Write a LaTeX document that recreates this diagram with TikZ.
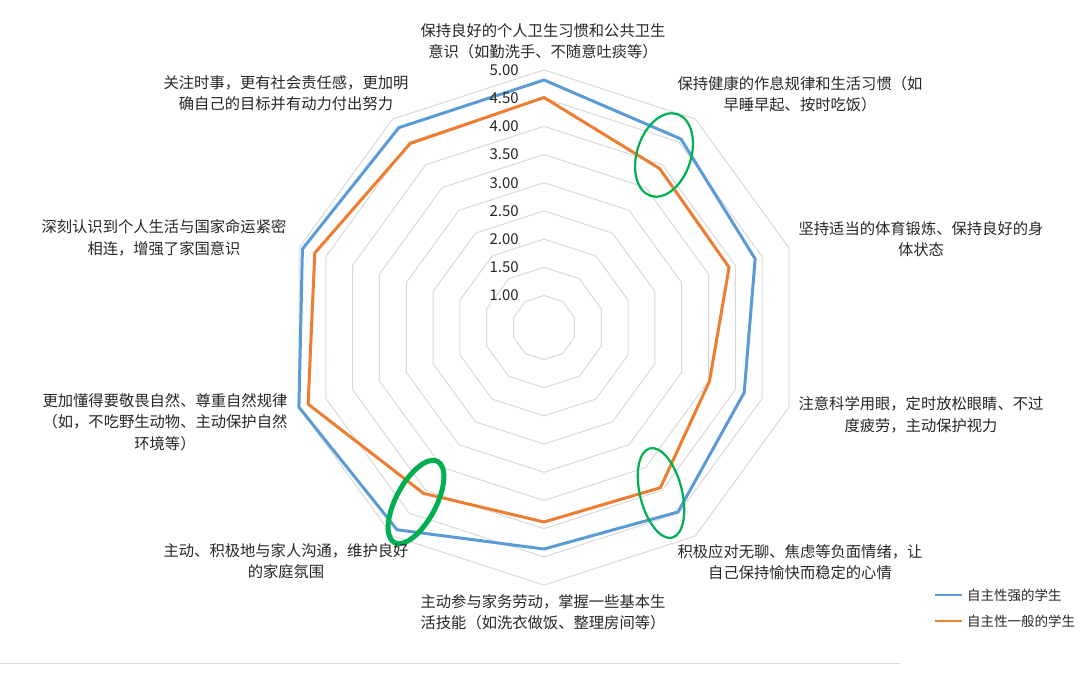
\documentclass[tikz,border=0pt]{standalone}
\usepackage{fontspec}
\setmainfont{Noto Sans CJK SC}
\definecolor{ring}{HTML}{D9D9D9}
\definecolor{sblue}{HTML}{5B9BD5}
\definecolor{sorange}{HTML}{ED7D31}
\definecolor{sgreen}{HTML}{00B050}
\begin{document}
\begin{tikzpicture}[x=1pt,y=1pt,
  lab/.style={align=center,font=\fontsize{15.3}{21.5}\selectfont,text=black!85,inner sep=0pt},
  tick/.style={anchor=east,font=\fontsize{15}{16}\selectfont,text=black!85,inner sep=0pt},
  ser/.style={line width=3pt,line join=round}]
\useasboundingbox (0,0) rectangle (1080,-681);
\draw[ring,line width=0.8pt] (0,-663) -- (900,-663);
\begin{scope}[shift={(544,-327.5)}]
\foreach \v in {1,1.5,...,5.01}{
  \pgfmathsetmacro{\r}{32+(\v-1)*56.4}
  \draw[ring,line width=1pt] (90:\r) \foreach \i in {1,...,9}{ -- ({90-36*\i}:\r)} -- cycle;
}
\draw[ser,sblue] (90:247.5) -- (54:233) -- (18:222) -- (-18:210.5) -- (-54:228) -- (-90:221.5) -- (-126:250) -- (-162:257.7) -- (-198:254) -- (-234:247) -- cycle;
\draw[ser,sorange] (90:230) -- (54:196.6) -- (18:194.6) -- (-18:174) -- (-54:198) -- (-90:194.5) -- (-126:205) -- (-162:248) -- (-198:241) -- (-234:227.5) -- cycle;
\end{scope}
\foreach \v/\t in {1/1.00,1.5/1.50,2/2.00,2.5/2.50,3/3.00,3.5/3.50,4/4.00,4.5/4.50,5/5.00}{
  \pgfmathsetmacro{\r}{32+(\v-1)*56.4}
  \node[tick] at (519,{-327.5+\r}) {\t};
}
\draw[sgreen,line width=2.2pt] (664,-155) ellipse[x radius=27,y radius=43,rotate=-18];
\draw[sgreen,line width=2.2pt] (661,-493) ellipse[x radius=21,y radius=46,rotate=14];
\draw[sgreen,line width=5pt] (416,-502) ellipse[x radius=20,y radius=46,rotate=-28];
\node[lab] (l0) at (543,-41) {保持良好的个人卫生习惯和公共卫生\\意识（如勤洗手、不随意吐痰等）};
\node[lab] (l1) at (800,-94) {保持健康的作息规律和生活习惯（如\\早睡早起、按时吃饭）};
\node[lab] (l2) at (921,-239) {坚持适当的体育锻炼、保持良好的身\\体状态};
\node[lab] (l3) at (921,-415) {注意科学用眼，定时放松眼睛、不过\\度疲劳，主动保护视力};
\node[lab] (l4) at (800,-562) {积极应对无聊、焦虑等负面情绪，让\\自己保持愉快而稳定的心情};
\node[lab] (l5) at (543,-612) {主动参与家务劳动，掌握一些基本生\\活技能（如洗衣做饭、整理房间等）};
\node[lab] (l6) at (286,-561) {主动、积极地与家人沟通，维护良好\\的家庭氛围};
\node[lab] (l7) at (165,-422) {更加懂得要敬畏自然、尊重自然规律\\（如，不吃野生动物、主动保护自然\\环境等）};
\node[lab] (l8) at (164,-238) {深刻认识到个人生活与国家命运紧密\\相连，增强了家国意识};
\node[lab] (l9) at (286,-93) {关注时事，更有社会责任感，更加明\\确自己的目标并有动力付出努力};
\coordinate (b1) at (935,-595); \coordinate (b2) at (962,-595);
\coordinate (o1) at (935,-621); \coordinate (o2) at (962,-621);
\draw[sblue,line width=2.5pt] (b1) -- (b2);
\draw[sorange,line width=2.5pt] (o1) -- (o2);
\node[lab,anchor=west,font=\fontsize{13.5}{16}\selectfont] (lg1) at (967,-595) {自主性强的学生};
\node[lab,anchor=west,font=\fontsize{13.5}{16}\selectfont] (lg2) at (967,-621) {自主性一般的学生};
\end{tikzpicture}
\end{document}
